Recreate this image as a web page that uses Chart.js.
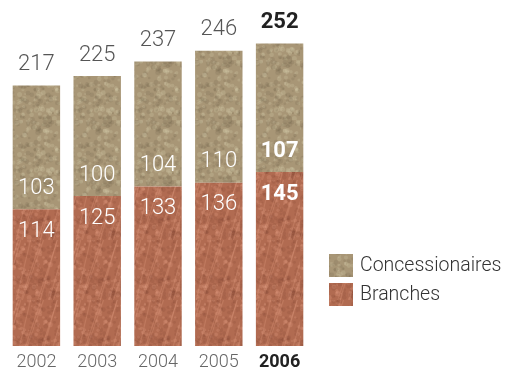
<!DOCTYPE html>
<html>
<head>
<meta charset="utf-8">
<script src="https://cdn.jsdelivr.net/npm/chart.js@4/dist/chart.umd.min.js"></script>
<style>
  html, body { margin: 0; padding: 0; background: #fff; }
  #wrap { width: 506px; height: 372px; }
</style>
</head>
<body>
<div id="wrap"><canvas id="chart" width="506" height="372"></canvas></div>
<script>
const years = ['2002', '2003', '2004', '2005', '2006']
const branches = [114, 125, 133, 136, 145]
const concessionaires = [103, 100, 104, 110, 107]

const FONT = 'Roboto, "Liberation Sans", sans-serif'
const ctx = document.getElementById('chart').getContext('2d')

// small leather-ish tile used as bar fill
const leather = (base, light, dark, seed, streaks) => {
  const c = document.createElement('canvas')
  c.width = 60; c.height = 60
  const g = c.getContext('2d')
  g.fillStyle = base
  g.fillRect(0, 0, 60, 60)
  let s = seed
  const rnd = () => (s = (s * 16807) % 2147483647) / 2147483647
  for (let i = 0; i < 260; i++) {
    g.fillStyle = rnd() < 0.5 ? light : dark
    g.beginPath()
    g.arc(rnd() * 60, rnd() * 60, 0.8 + rnd() * 1.8, 0, Math.PI * 2)
    g.fill()
  }
  if (streaks) {
    g.strokeStyle = light
    g.lineWidth = 1.2
    for (let i = 0; i < 9; i++) {
      const x = rnd() * 60
      g.beginPath()
      g.moveTo(x, 60)
      g.lineTo(x + 14 + rnd() * 8, 0)
      g.stroke()
    }
  }
  return ctx.createPattern(c, 'repeat')
}

const brPattern = leather('#b16b51', 'rgba(235,170,140,0.22)', 'rgba(90,40,25,0.10)', 7, true)
const coPattern = leather('#a89676', 'rgba(230,220,190,0.18)', 'rgba(70,60,40,0.10)', 13, false)

const barLabels = {
  id: 'barLabels',
  afterDatasetsDraw(chart) {
    const c = chart.ctx
    const mB = chart.getDatasetMeta(0)
    const mC = chart.getDatasetMeta(1)
    c.save()
    c.textAlign = 'center'
    c.textBaseline = 'middle'
    years.forEach((y, i) => {
      const bold = i === years.length - 1
      const b = mB.data[i]
      const k = mC.data[i]
      c.font = (bold ? 'bold ' : '300 ') + '22px ' + FONT
      c.fillStyle = '#fff'
      c.fillText(branches[i], b.x, b.y + 22)
      c.fillText(concessionaires[i], k.x, k.base - 21)
      c.fillStyle = bold ? '#222' : '#555'
      c.fillText(branches[i] + concessionaires[i], k.x, k.y - 21)
    })
    c.restore()
  }
}

const sideLegend = {
  id: 'sideLegend',
  afterDraw(chart) {
    const c = chart.ctx
    c.save()
    c.textBaseline = 'middle'
    c.font = '300 19.5px ' + FONT
    const items = [chart.data.datasets[1], chart.data.datasets[0]]
    items.forEach((ds, i) => {
      const top = 254 + i * 29
      c.fillStyle = ds.backgroundColor
      c.fillRect(329, top, 24, 23)
      c.fillStyle = '#333'
      c.fillText(ds.label, 360, top + 12)
    })
    c.restore()
  }
}

new Chart(ctx, {
  type: 'bar',
  data: {
    labels: years,
    datasets: [
      { label: 'Branches', data: branches, backgroundColor: brPattern },
      { label: 'Concessionaires', data: concessionaires, backgroundColor: coPattern }
    ]
  },
  options: {
    responsive: false,
    animation: false,
    layout: { padding: { left: 6, right: 196, top: 10, bottom: 0 } },
    categoryPercentage: 0.78,
    barPercentage: 1,
    plugins: {
      legend: { display: false },
      tooltip: { enabled: false }
    },
    scales: {
      x: {
        stacked: true,
        grid: { display: false, drawTicks: false },
        border: { display: false },
        afterFit: s => { s.height = 26 },
        ticks: {
          padding: 6,
          color: c => c.index === 4 ? '#222' : '#666',
          font: c => ({ family: FONT, size: 18, weight: c.index === 4 ? 'bold' : '300' })
        }
      },
      y: {
        stacked: true,
        display: false,
        min: 0,
        max: 280
      }
    }
  },
  plugins: [barLabels, sideLegend]
})
</script>
</body>
</html>
